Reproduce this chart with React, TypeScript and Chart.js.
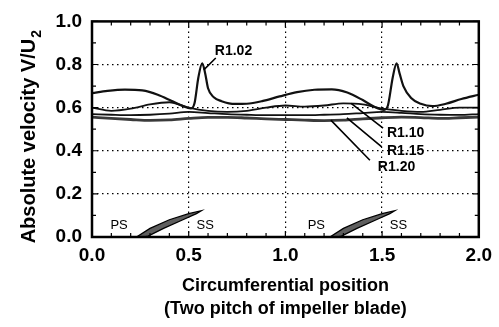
import React, { useEffect, useRef } from 'react';
import { Chart, registerables } from 'chart.js';

Chart.register(...registerables);

// Circumferential position (two blade pitches) and V/U2 for each radius ratio
const r102X = [0, 0.08, 0.17, 0.26, 0.34, 0.41, 0.47, 0.51, 0.53, 0.55, 0.57, 0.585, 0.6, 0.63, 0.67, 0.74, 0.8, 0.88, 0.97, 1.06, 1.15, 1.24, 1.32, 1.4, 1.46, 1.51, 1.53, 1.555, 1.575, 1.59, 1.61, 1.65, 1.7, 1.76, 1.83, 1.91, 2.0];
const r102V = [0.667, 0.678, 0.684, 0.68, 0.66, 0.632, 0.607, 0.596, 0.62, 0.74, 0.806, 0.76, 0.69, 0.648, 0.63, 0.617, 0.618, 0.63, 0.652, 0.672, 0.683, 0.685, 0.67, 0.635, 0.604, 0.59, 0.61, 0.74, 0.806, 0.76, 0.7, 0.645, 0.618, 0.607, 0.618, 0.64, 0.66];

const bundleX = [0, 0.1, 0.2, 0.3, 0.4, 0.5, 0.6, 0.7, 0.8, 0.9, 1.0, 1.1, 1.2, 1.3, 1.4, 1.5, 1.6, 1.7, 1.8, 1.9, 2.0];
const r110V = [0.6, 0.585, 0.595, 0.615, 0.625, 0.6, 0.585, 0.58, 0.585, 0.6, 0.61, 0.605, 0.61, 0.62, 0.615, 0.595, 0.585, 0.58, 0.59, 0.6, 0.6];
const r115V = [0.57, 0.567, 0.565, 0.567, 0.572, 0.58, 0.575, 0.57, 0.567, 0.565, 0.565, 0.565, 0.567, 0.57, 0.575, 0.58, 0.576, 0.57, 0.567, 0.566, 0.57];
const r120V = [0.556, 0.55, 0.545, 0.541, 0.543, 0.55, 0.555, 0.555, 0.552, 0.548, 0.545, 0.542, 0.54, 0.542, 0.548, 0.553, 0.556, 0.554, 0.55, 0.553, 0.556];

// Blade sections drawn at the bottom of the plot (closed outlines)
const blade1X = [0.23, 0.3, 0.4, 0.5, 0.565, 0.54, 0.47, 0.37, 0.29, 0.27, 0.23];
const blade1V = [0.0, 0.04, 0.08, 0.108, 0.122, 0.108, 0.08, 0.04, 0.004, 0.0, 0.0];
const blade2X = [1.23, 1.3, 1.4, 1.5, 1.565, 1.54, 1.47, 1.37, 1.29, 1.27, 1.23];
const blade2V = [0.0, 0.04, 0.08, 0.108, 0.122, 0.108, 0.08, 0.04, 0.004, 0.0, 0.0];

// Surface labels
const surfaceText = ['PS', 'SS', 'PS', 'SS'];
const surfaceX = [0.14, 0.585, 1.16, 1.585];
const surfaceV = [0.055, 0.055, 0.055, 0.055];

// Curve labels with leader lines
const curveText = ['R1.02', 'R1.10', 'R1.15', 'R1.20'];
const curveTextX = [0.635, 1.525, 1.525, 1.478];
const curveTextV = [0.86, 0.481, 0.398, 0.322];
const leaderFromX = [0.64, 1.505, 1.498, 1.437];
const leaderFromV = [0.83, 0.505, 0.418, 0.356];
const leaderToX = [0.578, 1.34, 1.318, 1.235];
const leaderToV = [0.775, 0.62, 0.553, 0.542];

const xTicks = [0, 0.5, 1.0, 1.5, 2.0];
const yTicks = [0, 0.2, 0.4, 0.6, 0.8, 1.0];
const xMinor = [0.1, 0.2, 0.3, 0.4, 0.6, 0.7, 0.8, 0.9, 1.1, 1.2, 1.3, 1.4, 1.6, 1.7, 1.8, 1.9];
const yMinor = [0.1, 0.3, 0.5, 0.7, 0.9];

const pts = (xs: number[], vs: number[]) => xs.map((x, i) => ({ x, y: vs[i] }));

const FONT = '"Liberation Sans", Arial, sans-serif';

const decorations = {
  id: 'decorations',
  afterDatasetsDraw(chart: any) {
    const { ctx, chartArea: a, scales } = chart;
    const sx = scales.x;
    const sy = scales.y;
    ctx.save();

    // minor and major inward ticks
    ctx.strokeStyle = '#000';
    ctx.lineWidth = 1.2;
    ctx.beginPath();
    yMinor.forEach((v) => {
      const p = sy.getPixelForValue(v);
      ctx.moveTo(a.left, p); ctx.lineTo(a.left + 4, p);
      ctx.moveTo(a.right, p); ctx.lineTo(a.right - 4, p);
    });
    yTicks.forEach((v) => {
      const p = sy.getPixelForValue(v);
      ctx.moveTo(a.left, p); ctx.lineTo(a.left + 6, p);
      ctx.moveTo(a.right, p); ctx.lineTo(a.right - 6, p);
    });
    xMinor.forEach((v) => {
      const p = sx.getPixelForValue(v);
      ctx.moveTo(p, a.bottom); ctx.lineTo(p, a.bottom - 4);
      ctx.moveTo(p, a.top); ctx.lineTo(p, a.top + 4);
    });
    xTicks.forEach((v) => {
      const p = sx.getPixelForValue(v);
      ctx.moveTo(p, a.bottom); ctx.lineTo(p, a.bottom - 6);
      ctx.moveTo(p, a.top); ctx.lineTo(p, a.top + 6);
    });
    ctx.stroke();

    // frame
    ctx.lineWidth = 2.5;
    ctx.strokeRect(a.left, a.top, a.right - a.left, a.bottom - a.top);

    // leader lines
    ctx.lineWidth = 1.6;
    ctx.beginPath();
    leaderFromX.forEach((x, i) => {
      ctx.moveTo(sx.getPixelForValue(x), sy.getPixelForValue(leaderFromV[i]));
      ctx.lineTo(sx.getPixelForValue(leaderToX[i]), sy.getPixelForValue(leaderToV[i]));
    });
    ctx.stroke();

    // curve labels
    ctx.fillStyle = '#000';
    ctx.font = `bold 14px ${FONT}`;
    ctx.textAlign = 'left';
    ctx.textBaseline = 'middle';
    curveText.forEach((t, i) => {
      ctx.fillText(t, sx.getPixelForValue(curveTextX[i]), sy.getPixelForValue(curveTextV[i]));
    });

    // surface labels
    ctx.font = `13px ${FONT}`;
    ctx.textAlign = 'center';
    surfaceText.forEach((t, i) => {
      ctx.fillText(t, sx.getPixelForValue(surfaceX[i]), sy.getPixelForValue(surfaceV[i]));
    });

    // y-axis title with subscript
    const main = 'Absolute velocity V/U';
    ctx.font = `bold 20px ${FONT}`;
    const w = ctx.measureText(main).width;
    ctx.font = `bold 14px ${FONT}`;
    const w2 = ctx.measureText('2').width;
    const total = w + w2;
    const cy = (a.top + a.bottom) / 2 + 8;
    ctx.translate(29, cy);
    ctx.rotate(-Math.PI / 2);
    ctx.textAlign = 'left';
    ctx.textBaseline = 'middle';
    ctx.font = `bold 20px ${FONT}`;
    ctx.fillText(main, -total / 2, 0);
    ctx.font = `bold 14px ${FONT}`;
    ctx.fillText('2', -total / 2 + w + 1, 8);

    ctx.restore();
  },
};

export default function App() {
  const ref = useRef<HTMLCanvasElement>(null);

  useEffect(() => {
    const lineBase = {
      pointRadius: 0,
      fill: false,
      cubicInterpolationMode: 'monotone' as const,
      borderColor: '#111',
    };
    const chart = new Chart(ref.current as HTMLCanvasElement, {
      type: 'line',
      data: {
        datasets: [
          { ...lineBase, label: 'R1.02', data: pts(r102X, r102V), borderWidth: 2.2 },
          { ...lineBase, label: 'R1.10', data: pts(bundleX, r110V), borderWidth: 1.8 },
          { ...lineBase, label: 'R1.15', data: pts(bundleX, r115V), borderWidth: 1.8 },
          { ...lineBase, label: 'R1.20', data: pts(bundleX, r120V), borderWidth: 2.8, borderColor: '#3a3a3a' },
          {
            label: 'blade', data: pts(blade1X, blade1V), pointRadius: 0, tension: 0,
            borderColor: '#000', borderWidth: 1.3, backgroundColor: '#5e5e5e', fill: 'shape',
          },
          {
            label: 'blade', data: pts(blade2X, blade2V), pointRadius: 0, tension: 0,
            borderColor: '#000', borderWidth: 1.3, backgroundColor: '#5e5e5e', fill: 'shape',
          },
        ],
      },
      options: {
        animation: false,
        responsive: false,
        devicePixelRatio: 1,
        layout: { padding: { top: 21, right: 20, left: 0, bottom: 0 } },
        plugins: { legend: { display: false }, tooltip: { enabled: false } },
        scales: {
          x: {
            type: 'linear',
            min: 0,
            max: 2,
            afterFit: (s: any) => { s.height = 90; },
            afterBuildTicks: (s: any) => { s.ticks = xTicks.map((v) => ({ value: v })); },
            ticks: {
              color: '#000',
              padding: 7,
              font: { family: FONT, size: 19, weight: 'bold' },
              callback: (v: any) => Number(v).toFixed(1),
            },
            grid: {
              drawTicks: false,
              lineWidth: 1.2,
              color: (c: any) => (c.tick && (c.tick.value === 0 || c.tick.value === 2) ? 'rgba(0,0,0,0)' : '#000'),
            },
            border: { display: false, dash: [1.5, 3.5] },
            title: {
              display: true,
              text: ['Circumferential position', '(Two pitch of impeller blade)'],
              color: '#000',
              font: { family: FONT, size: 18, weight: 'bold', lineHeight: 1.3 },
              padding: { top: 0, bottom: 6 },
            },
          },
          y: {
            type: 'linear',
            min: 0,
            max: 1,
            afterFit: (s: any) => { s.width = 92; },
            afterBuildTicks: (s: any) => { s.ticks = yTicks.map((v) => ({ value: v })); },
            ticks: {
              color: '#000',
              padding: 10,
              font: { family: FONT, size: 19, weight: 'bold' },
              callback: (v: any) => Number(v).toFixed(1),
            },
            grid: {
              drawTicks: false,
              lineWidth: 1.2,
              color: (c: any) => (c.tick && (c.tick.value === 0 || c.tick.value === 1) ? 'rgba(0,0,0,0)' : '#000'),
            },
            border: { display: false, dash: [1.5, 3.5] },
          },
        },
      },
      plugins: [decorations],
    } as any);
    return () => chart.destroy();
  }, []);

  return (
    <div style={{ position: 'absolute', left: 0, top: 0, width: 499, height: 327, background: '#fff' }}>
      <canvas ref={ref} width={499} height={327} style={{ display: 'block', width: 499, height: 327 }} />
    </div>
  );
}
